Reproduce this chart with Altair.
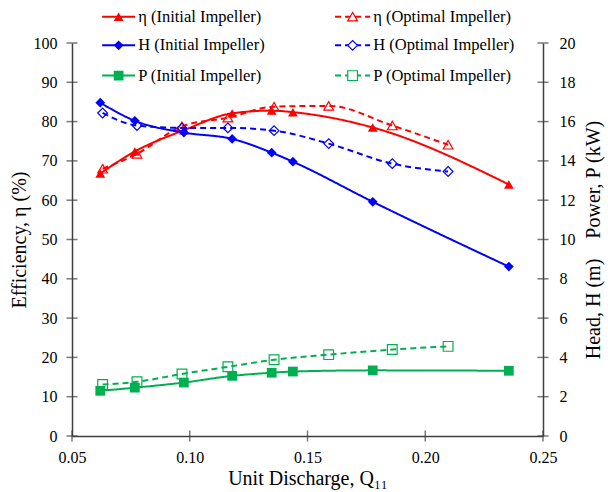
import altair as alt
import pandas as pd

# ---------------- data ----------------
q_init = [0.062, 0.0767, 0.0975, 0.118, 0.1348, 0.1438, 0.1777, 0.2355]
q_opt = [0.063, 0.0776, 0.0967, 0.1162, 0.1358, 0.159, 0.186, 0.2097]

eta_init = [66.8, 72.4, 77.8, 82.1, 82.8, 82.4, 78.5, 64.0]      # %
eta_opt = [68.0, 71.8, 78.8, 81.0, 83.8, 84.0, 79.0, 74.1]       # %
head_init = [16.96, 16.04, 15.44, 15.12, 14.42, 13.96, 11.92, 8.62]  # m
head_opt = [16.44, 15.80, 15.68, 15.68, 15.54, 14.88, 13.86, 13.46]  # m
power_init = [2.30, 2.46, 2.72, 3.06, 3.22, 3.28, 3.34, 3.32]    # kW
power_opt = [2.62, 2.76, 3.16, 3.52, 3.88, 4.14, 4.40, 4.56]     # kW

series = ["η (Initial Impeller)", "η (Optimal Impeller)",
          "H (Initial Impeller)", "H (Optimal Impeller)",
          "P (Initial Impeller)", "P (Optimal Impeller)"]
line_colors = ["#FF0000", "#FF0000", "#0000FF", "#0000FF", "#00B050", "#00B050"]
open_colors = ["#FF0000", "#FF4B4B", "#0000FF", "#6A6AFF", "#00B050", "#55C98A"]
shapes = ["triangle-up", "triangle-up", "diamond", "diamond", "square", "square"]
impellers = ["Initial", "Optimal"]

x_ticks = [0.05, 0.10, 0.15, 0.20, 0.25]
left_ticks = list(range(0, 101, 10))
right_ticks = list(range(0, 21, 2))
X_MIN, X_MAX = 0.05, 0.25

# ---------------- tables ----------------
def rows(qs, vals, name, imp):
    return [{"q": q, "v": v, "series": name, "imp": imp} for q, v in zip(qs, vals)]

eff_df = pd.DataFrame(rows(q_init, eta_init, series[0], "Initial") +
                      rows(q_opt, eta_opt, series[1], "Optimal"))
rt_df = pd.DataFrame(rows(q_init, head_init, series[2], "Initial") +
                     rows(q_opt, head_opt, series[3], "Optimal") +
                     rows(q_init, power_init, series[4], "Initial") +
                     rows(q_opt, power_opt, series[5], "Optimal"))

# legend layout (in data units of the left axis)
leg_row_y = [106.7, 99.4, 91.7]
leg_col_x = [(0.0628, 0.0768, 0.0781), (0.1617, 0.1766, 0.1779)]
leg = []
for i, s in enumerate(series):
    col = i % 2
    r = i // 2
    x0, x1, xt = leg_col_x[col]
    leg.append({"series": s, "imp": impellers[col], "x0": x0, "x1": x1,
                "xm": (x0 + x1) / 2, "xt": xt, "y": leg_row_y[r]})
leg_df = pd.DataFrame(leg)

left_tick_df = pd.DataFrame({"q": [X_MIN] * len(left_ticks), "v": left_ticks})
right_tick_df = pd.DataFrame({"q": [X_MAX] * len(right_ticks), "v": right_ticks})
bottom_tick_df = pd.DataFrame({"q": x_ticks, "v": [0] * len(x_ticks)})

FONT = "Liberation Serif"
NB = "\u00a0"
AX = "#404040"
xsc = alt.Scale(domain=[X_MIN, X_MAX], nice=False)
ysc_left = alt.Scale(domain=[0, 100], nice=False)
ysc_right = alt.Scale(domain=[0, 20], nice=False)

x_axis = alt.Axis(values=x_ticks, format=".2f", title="Unit Discharge, Q₁₁",
                  titlePadding=3, labelPadding=13, ticks=False)
left_axis = alt.Axis(values=left_ticks, title="Efficiency, η (%)", titlePadding=4,
                     orient="left", labelPadding=15, ticks=False)
right_axis = alt.Axis(values=right_ticks,
                      title="Head, H (m)" + NB * 4 + "Power, P (kW)",
                      orient="right", titleAngle=270, titleBaseline="top",
                      titlePadding=8, labelPadding=16, ticks=False)

color = alt.Color("series:N", scale=alt.Scale(domain=series, range=line_colors), legend=None)
ocolor = alt.Color("series:N", scale=alt.Scale(domain=series, range=open_colors), legend=None)
dash = alt.StrokeDash("imp:N", scale=alt.Scale(domain=impellers, range=[[1, 0], [6, 4]]), legend=None)
shape = alt.Shape("series:N", scale=alt.Scale(domain=series, range=shapes), legend=None)

xenc = alt.X("q:Q", scale=xsc, axis=x_axis)
yleft = alt.Y("v:Q", scale=ysc_left, axis=left_axis)
yright = alt.Y("v:Q", scale=ysc_right, axis=right_axis)


def series_layers(df, yenc):
    base = alt.Chart(df).encode(x=xenc, y=yenc)
    lines = base.mark_line(strokeWidth=2, interpolate="monotone").encode(
        color=color, strokeDash=dash, detail="series:N")
    filled = base.transform_filter(alt.datum.imp == "Initial").mark_point(
        filled=True, size=95, opacity=1).encode(color=color, shape=shape)
    hollow = base.transform_filter(alt.datum.imp == "Optimal").mark_point(
        filled=False, size=95, opacity=1, strokeWidth=1.2).encode(color=ocolor, shape=shape)
    return [lines, filled, hollow]


# crossing tick marks
left_ticks_layer = alt.Chart(left_tick_df).mark_tick(
    orient="horizontal", size=11, thickness=1.5, color=AX).encode(x=xenc, y=yleft)
bottom_ticks_layer = alt.Chart(bottom_tick_df).mark_tick(
    orient="vertical", size=11, thickness=1.5, color=AX).encode(x=xenc, y=yleft)
right_ticks_layer = alt.Chart(right_tick_df).mark_tick(
    orient="horizontal", size=11, thickness=1.5, color=AX).encode(x=xenc, y=yright)

# legend layers
lbase = alt.Chart(leg_df)
ly_enc = alt.Y("y:Q", scale=ysc_left, axis=left_axis)
lxm = alt.X("xm:Q", scale=xsc, axis=x_axis)
leg_lines = lbase.mark_rule(strokeWidth=2).encode(
    x=alt.X("x0:Q", scale=xsc, axis=x_axis), x2="x1:Q", y=ly_enc, color=color, strokeDash=dash)
leg_fill = lbase.transform_filter(alt.datum.imp == "Initial").mark_point(
    filled=True, size=95, opacity=1).encode(x=lxm, y=ly_enc, color=color, shape=shape)
leg_open = lbase.transform_filter(alt.datum.imp == "Optimal").mark_point(
    filled=False, size=95, opacity=1, strokeWidth=1.2, fill="white").encode(
    x=lxm, y=ly_enc, color=ocolor, shape=shape)
leg_text = lbase.mark_text(align="left", baseline="middle", font=FONT, fontSize=16.5,
                           color="black").encode(
    x=alt.X("xt:Q", scale=xsc, axis=x_axis), y=ly_enc, text="series:N")

left = alt.layer(left_ticks_layer, bottom_ticks_layer, *series_layers(eff_df, yleft),
                 leg_lines, leg_fill, leg_open, leg_text)
right = alt.layer(right_ticks_layer, *series_layers(rt_df, yright))

chart = alt.layer(left, right).resolve_scale(y="independent").properties(
    width=471, height=393,
    autosize=alt.AutoSizeParams(type="none"),
    padding={"left": 72, "top": 43, "right": 65, "bottom": 56},
).configure(font=FONT, background="white").configure_view(stroke=None).configure_axis(
    grid=False, domainColor=AX, domainWidth=1.5, labelFont=FONT, labelFontSize=16,
    labelColor="black", titleFont=FONT, titleFontSize=20, titleFontWeight="normal",
    titleColor="black", labelFlush=False,
).configure_text(font=FONT)

chart.save("out.html", embed_options={"renderer": "svg", "actions": False})
